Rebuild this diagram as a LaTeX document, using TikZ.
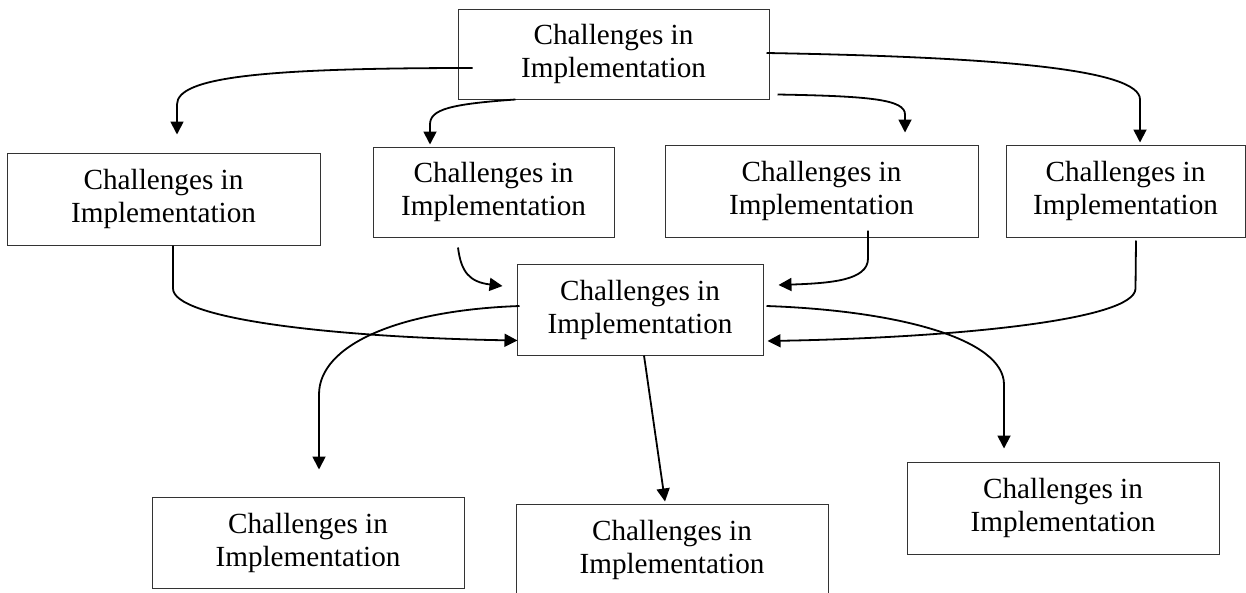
\documentclass[tikz,border=0pt]{standalone}
\usepackage{fontspec}
\setmainfont{Liberation Serif}
\usetikzlibrary{arrows.meta,calc}

\begin{document}
\begin{tikzpicture}[x=1pt, y=-1pt,
  box/.style={draw=black!80, line width=1pt, align=center, inner sep=0pt, font=\fontsize{29.2}{33}\selectfont},
  con/.style={line width=1.8pt, -{Triangle[length=13pt,width=13pt]}}]
  \useasboundingbox (0,0) rectangle (1246,592);
  \node[box, minimum width=311pt, minimum height=90pt] (top) at (613.5,54) {Challenges in\\Implementation};
  \node[box, minimum width=313pt, minimum height=92pt] (ch1) at (163.5,199) {Challenges in\\Implementation};
  \node[box, minimum width=241pt, minimum height=90pt] (ch2) at (493.5,192) {Challenges in\\Implementation};
  \node[box, minimum width=313pt, minimum height=92pt] (ch3) at (821.5,191) {Challenges in\\Implementation};
  \node[box, minimum width=239pt, minimum height=92pt] (ch4) at (1125.5,191) {Challenges in\\Implementation};
  \node[box, minimum width=246pt, minimum height=91pt] (hub) at (640,309.5) {Challenges in\\Implementation};
  \node[box, minimum width=312pt, minimum height=91pt] (out1) at (308,542.5) {Challenges in\\Implementation};
  \node[box, minimum width=312pt, minimum height=91pt] (out2) at (672,549.5) {Challenges in\\Implementation};
  \node[box, minimum width=312pt, minimum height=92pt] (out3) at (1063,508) {Challenges in\\Implementation};
  \draw[con] ($(top.west)+(15,14)$) to[out=180,in=90,out distance=213pt,in distance=27pt] ($(ch1.north)+(13.5,-48)$) -- ($(ch1.north)+(13.5,-18)$);
  \draw[con] ($(top.south west)+(58,0)$) to[out=184,in=90,out distance=66pt,in distance=15pt] ($(ch2.north)+(-63.5,-22)$) -- ($(ch2.north)+(-63.5,-2)$);
  \draw[con] ($(top.south east)+(8,-5)$) to[out=-1,in=90,out distance=93pt,in distance=15pt] ($(ch3.north)+(83.5,-30)$) -- ($(ch3.north)+(83.5,-12)$);
  \draw[con] ($(top.east)+(-3,-1)$) to[out=-1,in=90,out distance=234pt,in distance=30pt] ($(ch4.north)+(14.5,-45)$) -- ($(ch4.north)+(14.5,-2)$);
  \draw[con] ($(ch1.south)+(9.5,0)$) -- ($(ch1.south)+(9.5,43)$) to[out=270,in=179,out distance=30pt,in distance=188pt] ($(hub.west)+(1,31)$);
  \draw[con] ($(ch2.south)+(-35.5,10)$) to[out=-83,in=173,out distance=25pt,in distance=33pt] ($(hub.west)+(-14,-23.5)$);
  \draw[con] ($(ch3.south)+(46.5,-7)$) -- ($(ch3.south)+(46.5,21)$) to[out=270,in=2,out distance=22pt,in distance=52pt] ($(hub.east)+(15,-24.5)$);
  \draw[con] ($(ch4.south)+(10.5,3)$) -- ($(ch4.south)+(10,51)$) to[out=270,in=1,out distance=32pt,in distance=183pt] ($(hub.east)+(4,31.5)$);
  \draw[con] ($(hub.west)+(3,-3.5)$) to[out=182,in=90,out distance=120pt,in distance=50pt] ($(out1.north)+(11,-102)$) -- ($(out1.north)+(11,-27)$);
  \draw[con] ($(hub.south)+(4,0)$) -- ($(out2.north)+(-7,-2)$);
  \draw[con] ($(hub.east)+(3,-3.5)$) to[out=-2,in=90,out distance=134pt,in distance=45pt] ($(out3.north)+(-59,-77)$) -- ($(out3.north)+(-59,-13)$);
\end{tikzpicture}
\end{document}
